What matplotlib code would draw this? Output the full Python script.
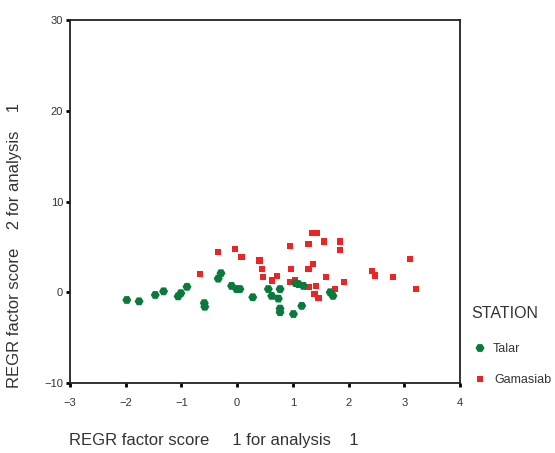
import matplotlib
matplotlib.use("Agg")
import matplotlib.pyplot as plt

plt.rcParams['font.family'] = ['Liberation Sans', 'DejaVu Sans']

talar_x = [-1.98, -1.76, -1.47, -1.32, -1.06, -1.01, -0.90, -0.59, -0.58, -0.34, -0.29,
           -0.10, -0.01, 0.05, 0.28, 0.56, 0.62, 0.77, 0.74, 0.77, 0.77, 1.01, 1.16,
           1.05, 1.10, 1.19, 1.67, 1.72]
talar_y = [-0.85, -1.0, -0.3, 0.1, -0.45, -0.1, 0.6, -1.2, -1.6, 1.5, 2.1,
           0.7, 0.35, 0.35, -0.55, 0.35, -0.4, 0.35, -0.7, -1.8, -2.2, -2.4, -1.5,
           1.0, 0.9, 0.7, 0.0, -0.4]

gamasiab_x = [-0.67, -0.34, -0.04, 0.08, 0.40, 0.44, 0.47, 0.62, 0.72, 0.95, 0.96, 0.95,
              1.04, 1.28, 1.34, 1.43, 1.56, 1.84, 1.84, 1.28, 1.36, 1.60, 1.92, 1.28,
              1.42, 1.39, 1.46, 1.75, 2.42, 2.48, 2.80, 3.10, 3.21]
gamasiab_y = [2.0, 4.4, 4.8, 3.85, 3.5, 2.6, 1.65, 1.3, 1.8, 5.1, 2.6, 1.1,
              1.3, 5.3, 6.5, 6.5, 5.6, 5.6, 4.65, 2.6, 3.1, 1.65, 1.1, 0.55,
              0.7, -0.2, -0.6, 0.35, 2.3, 1.85, 1.65, 3.65, 0.35]

x_ticks = [-3, -2, -1, 0, 1, 2, 3, 4]
y_ticks = [-10, 0, 10, 20, 30]

green = '#0a7a3c'
red = '#ee2424'

fig = plt.figure(figsize=(5.55, 4.53), dpi=100)
ax = fig.add_axes([70/555, 1-383/453, 390/555, 363/453])

ax.scatter(gamasiab_x, gamasiab_y, marker='s', s=20, color=red, edgecolors='none', zorder=2)
ax.scatter(talar_x, talar_y, marker='H', s=42, color=green, edgecolors='none', zorder=3)

ax.set_xlim(-3, 4)
ax.set_ylim(-10, 30)
ax.set_xticks(x_ticks)
ax.set_yticks(y_ticks)
ax.tick_params(direction='out', length=3, width=2, labelsize=8, labelcolor='#333333')
ax.tick_params(axis='x', pad=8)
ax.tick_params(axis='y', pad=2)
for s in ax.spines.values():
    s.set_linewidth(1.3)
    s.set_color('#222222')

fig.text(15/555, 1-245/453, 'REGR factor score    2 for analysis    1', rotation=90,
         ha='center', va='center', fontsize=12, color='#333333')
fig.text(69/555, 1-441/453, 'REGR factor score     1 for analysis    1',
         ha='left', va='center', fontsize=12, color='#333333')

fig.text(471/555, 1-313/453, 'STATION', ha='left', va='center', fontsize=11.5, color='#333333')
lax = fig.add_axes([0, 0, 1, 1], facecolor='none')
lax.set_xlim(0, 555)
lax.set_ylim(453, 0)
lax.axis('off')
lax.scatter([480], [348], marker='H', s=42, color=green, edgecolors='none')
lax.scatter([480], [379], marker='s', s=20, color=red, edgecolors='none')
fig.text(493/555, 1-349/453, 'Talar', ha='left', va='center', fontsize=9, color='#333333')
fig.text(494/555, 1-380/453, 'Gamasiab', ha='left', va='center', fontsize=9, color='#333333')

fig.savefig('out.png', dpi=100)
